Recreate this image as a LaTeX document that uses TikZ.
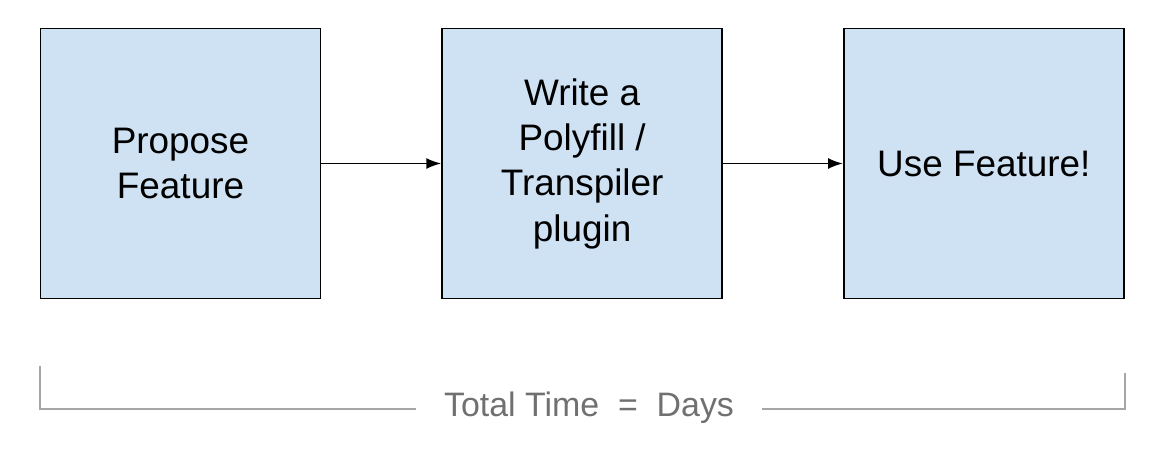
\documentclass[tikz,border=0pt]{standalone}
\usepackage{fontspec}
\setmainfont{Liberation Sans}
\usetikzlibrary{positioning,arrows.meta}

\definecolor{boxblue}{HTML}{CFE2F3}
\definecolor{spangray}{HTML}{A6A6A6}
\definecolor{spantext}{HTML}{707070}

\begin{document}
\begin{tikzpicture}[x=0.02cm,y=-0.02cm,
  stagebox/.style={draw=black,line width=1pt,fill=boxblue,minimum width=5.6cm,minimum height=5.4cm,
    align=center,font=\fontsize{21}{25.8}\selectfont,inner sep=0pt},
  flow/.style={line width=1.1pt,-{Latex[length=0.3cm,width=0.22cm]}},
  span/.style={draw=spangray,line width=1.2pt}]

\useasboundingbox (0,0) rectangle (1159,450);

% The three stages, left to right.
\node[stagebox] (propose) at (180.5,163.5) {Propose\\Feature};
\node[stagebox,right=2.40cm of propose] (polyfill) {Write a\\Polyfill /\\Transpiler\\plugin};
\node[stagebox,right=2.40cm of polyfill] (use) {Use Feature!};

\draw[flow] (propose) -- (polyfill);
\draw[flow] (polyfill) -- (use);

% Span under the stages, with its label.
\node[anchor=base,text=spantext,font=\fontsize{19.3}{23}\selectfont] (total) at (589,416) {Total Time~~=~~Days};

\draw[span] (40,366) |- (416,409);
\draw[span] (762,409) -| (1125,373);

\end{tikzpicture}
\end{document}
